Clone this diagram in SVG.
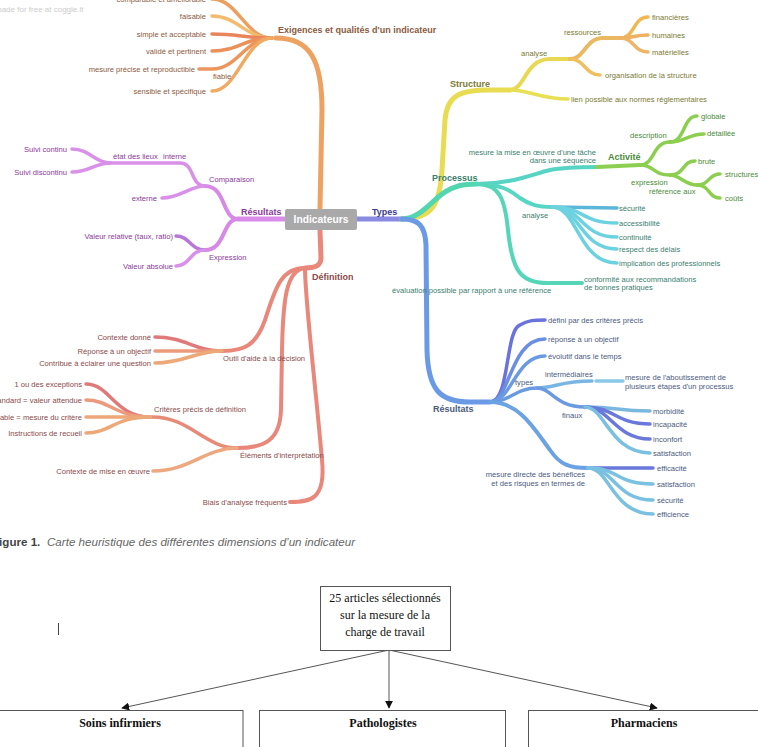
<svg xmlns="http://www.w3.org/2000/svg" width="758" height="747" viewBox="0 0 758 747">
<style>
text{font-family:"Liberation Sans",Arial,sans-serif;font-size:7.6px}
.b{font-weight:bold;font-size:9px}
.e{text-anchor:end}
path{fill:none;stroke-linecap:round}
.w5{stroke-width:5}.w4{stroke-width:4}.w3{stroke-width:3.5}
.to{fill:#8b5a40}.tp{fill:#8a3a9a}.tr{fill:#8a4a4a}.ty{fill:#7a7a34}.tt{fill:#3a7e6e}.tg{fill:#4a8a3a}.tb{fill:#4a5a80}
.fl{font-family:"Liberation Serif","Times New Roman",serif;font-size:12px;fill:#111}
.fb{font-weight:bold}
</style>
<defs>
<marker id="ah" viewBox="0 0 10 10" refX="9" refY="5" markerWidth="8" markerHeight="8" orient="auto"><path d="M0,0 L10,5 L0,10 Z" style="fill:#111;stroke:none"/></marker>
</defs>
<text x="-5" y="12" style="font-size:8px;fill:#cccccc">made for free at coggle.it</text>

<g id="connectors">
<!-- Exigences -->
<path class="w5" stroke="#eea262" d="M320,208 L322,110 C322,60 310,38 276,38"/>
<path class="w3" stroke="#eba060" d="M272,38 C245,38 238,-1 212,-1"/>
<path class="w3" stroke="#f2bb6e" d="M272,38 C245,38 238,16 212,16"/>
<path class="w3" stroke="#e8855a" d="M272,38 C245,38 238,34 212,34"/>
<path class="w3" stroke="#ea9058" d="M272,38 C245,38 238,51 212,51"/>
<path class="w3" stroke="#ec955c" d="M272,38 C245,38 238,69 212,69 L199,69"/>
<path class="w3" stroke="#f0aa62" d="M272,38 C245,38 238,91 212,91"/>
<!-- Résultats left -->
<path class="w5" stroke="#d98ce8" d="M285,219 L238,219"/>
<path class="w4" stroke="#d68ae6" d="M238,219 C222,219 226,186 205,186"/>
<path class="w4" stroke="#d68ae6" d="M238,219 C222,219 226,250 205,250"/>
<path class="w3" stroke="#d990e8" d="M205,186 C190,186 195,163 180,163 L160,163 L110,163"/>
<path class="w3" stroke="#d990e8" d="M110,163 C95,163 90,149 72,149"/>
<path class="w3" stroke="#d990e8" d="M110,163 C95,163 90,172 72,172"/>
<path class="w3" stroke="#d990e8" d="M205,186 C190,186 180,198 162,198"/>
<path class="w3" stroke="#b878d8" d="M205,250 C190,250 190,236 176,236"/>
<path class="w3" stroke="#d990e8" d="M205,250 C190,250 190,266 176,266"/>
<!-- Définition -->
<path class="w5" stroke="#e8877a" d="M320,231 L321,258 C321,266 315,268 305,268"/>
<path class="w4" stroke="#e8877a" d="M305,268 C280,268 275,290 265,320 C256,345 245,351 222,351"/>
<path class="w4" stroke="#e8877a" d="M305,268 C286,270 283,300 282,350 L281,410 C280,440 265,448 237,448"/>
<path class="w4" stroke="#e8877a" d="M305,268 C305,300 315,380 322,460 C326,500 310,502 290,502"/>
<path class="w3" stroke="#e07a7a" d="M222,351 C195,351 185,337 155,337"/>
<path class="w3" stroke="#eb9a7c" d="M222,351 L155,351"/>
<path class="w3" stroke="#eca878" d="M222,351 C195,351 185,363 155,363"/>
<path class="w3" stroke="#e88a78" d="M237,448 C205,448 190,417 152,417"/>
<path class="w3" stroke="#eda880" d="M237,448 C205,448 190,471 153,471"/>
<path class="w3" stroke="#e07a7a" d="M150,417 C115,417 110,384 86,384"/>
<path class="w3" stroke="#eb9a7c" d="M150,417 C115,417 110,400 86,400"/>
<path class="w3" stroke="#eca878" d="M150,417 L86,417"/>
<path class="w3" stroke="#eca878" d="M150,417 C115,417 110,433 86,433"/>
<!-- Types -->
<path class="w5" stroke="#8a8ae2" d="M357,219 L402,219"/>
<!-- Structure -->
<path class="w5" stroke="#e8dc52" d="M402,219 C435,219 440,200 442,170 L445,120 C447,95 460,90 490,90 L510,90"/>
<path class="w4" stroke="#e8d852" d="M510,90 C525,90 525,59 550,59 L570,59"/>
<path class="w4" stroke="#ebb862" d="M570,59 C585,59 585,38 603,38 L620,38"/>
<path class="w3" stroke="#f0b852" d="M620,38 C635,38 633,17 648,17"/>
<path class="w3" stroke="#f0b060" d="M620,38 C635,38 633,35 648,35"/>
<path class="w3" stroke="#eeb468" d="M620,38 C635,38 633,52 648,52"/>
<path class="w3" stroke="#f0c060" d="M570,59 C585,59 585,75 600,75"/>
<path class="w3" stroke="#e8e052" d="M510,90 C530,90 540,99 568,99"/>
<!-- Processus -->
<path class="w5" stroke="#52d6b0" d="M402,219 C420,219 432,200 445,192 C455,186 462,184 477,184"/>
<path class="w4" stroke="#58d4c4" d="M477,184 C510,184 530,175 550,170 C565,167 580,167 597,167"/>
<path class="w4" stroke="#8ccf50" d="M597,167 L640,165"/>
<path class="w3" stroke="#8ccf50" d="M640,165 C655,165 652,142 670,142"/>
<path class="w3" stroke="#8ccf50" d="M670,142 C685,142 683,116 697,116"/>
<path class="w3" stroke="#8ccf50" d="M670,142 C685,142 688,134 704,134"/>
<path class="w3" stroke="#8ccf50" d="M640,165 C655,165 652,175 670,175"/>
<path class="w3" stroke="#8ccf50" d="M670,175 C685,175 682,161 695,161"/>
<path class="w3" stroke="#8ccf50" d="M670,175 C680,175 685,185 697,185"/>
<path class="w3" stroke="#8ccf50" d="M697,185 C710,185 708,174 720,174"/>
<path class="w3" stroke="#8ccf50" d="M697,185 C710,185 708,198 720,198"/>
<path class="w4" stroke="#58d6c4" d="M477,184 C500,184 510,190 520,198 C530,205 538,207 552,207"/>
<path class="w3" stroke="#5cb6d8" d="M552,207 L617,208"/>
<path class="w3" stroke="#6cd2e0" d="M552,207 C585,207 580,223 617,223"/>
<path class="w3" stroke="#6cd2e0" d="M552,207 C583,207 580,237 617,237"/>
<path class="w3" stroke="#6cd2e0" d="M552,207 C580,207 580,249 617,249"/>
<path class="w3" stroke="#6cd2e0" d="M552,207 C578,207 578,263 617,263"/>
<path class="w4" stroke="#56d6b8" d="M477,184 C500,184 505,200 508,230 C512,270 520,283 547,283 L582,283"/>
<!-- Résultats right -->
<path class="w5" stroke="#6a9ae6" d="M402,219 C418,219 425,225 426,245 L427,350 C428,390 440,402 470,402 L490,402"/>
<path class="w3" stroke="#6a72dc" d="M490,402 C510,402 505,330 520,325 C528,320 535,320 545,320"/>
<path class="w3" stroke="#6a8ee2" d="M490,402 C510,402 510,339 545,339"/>
<path class="w3" stroke="#6a9ae2" d="M490,402 C512,402 515,356 545,356"/>
<path class="w3" stroke="#6a9ae2" d="M490,402 C510,402 515,388 537,388"/>
<path class="w3" stroke="#7ab6e4" d="M537,388 C555,388 560,381 592,381"/>
<path class="w3" stroke="#8ac8e8" d="M596,381 L623,381"/>
<path class="w3" stroke="#6a9ae2" d="M537,388 C552,388 555,407 585,407"/>
<path class="w3" stroke="#7ab8e0" d="M585,407 C620,407 615,411 650,411"/>
<path class="w3" stroke="#6a78dc" d="M585,407 C615,407 615,424 650,424"/>
<path class="w3" stroke="#6a78dc" d="M585,407 C610,407 615,439 650,439"/>
<path class="w3" stroke="#7ac0e0" d="M585,407 C605,407 610,453 650,453"/>
<path class="w4" stroke="#6aa2e4" d="M490,402 C520,402 535,430 550,450 C560,465 570,468 588,468"/>
<path class="w3" stroke="#6a78dc" d="M588,468 L653,468"/>
<path class="w3" stroke="#7ac0e0" d="M588,468 C620,468 615,484 653,484"/>
<path class="w3" stroke="#7ac0e0" d="M588,468 C615,468 615,500 653,500"/>
<path class="w3" stroke="#7ac0e0" d="M588,468 C610,468 612,514 653,514"/>
<!-- flowchart -->
<g stroke="#555" stroke-width="1" fill="none">
<line x1="389" y1="650" x2="122" y2="708" marker-end="url(#ah)"/>
<line x1="389" y1="650" x2="389" y2="708" marker-end="url(#ah)"/>
<line x1="389" y1="650" x2="657" y2="708" marker-end="url(#ah)"/>
</g>
</g>

<g id="indicateurs">
<rect x="285" y="209" width="72" height="21" rx="2" fill="#a9a9a9"/>
<text x="321" y="223" class="b" style="font-size:10.3px;fill:#fff;text-anchor:middle">Indicateurs</text>
</g>

<g id="exigences">
<text x="278" y="33" class="b to">Exigences et qualités d'un indicateur</text>
<text x="206" y="2" class="e to">comparable et améliorable</text>
<text x="206" y="19" class="e to">faisable</text>
<text x="206" y="37" class="e to">simple et acceptable</text>
<text x="206" y="54" class="e to">validé et pertinent</text>
<text x="213" y="79" class="to">fiable</text>
<text x="195" y="72" class="e to">mesure précise et reproductible</text>
<text x="206" y="94" class="e to">sensible et spécifique</text>
</g>

<g id="resultats-gauche">
<text x="241" y="215" class="b tp">Résultats</text>
<text x="209" y="182" class="tp">Comparaison</text>
<text x="209" y="260" class="tp">Expression</text>
<text x="163" y="159" class="tp">interne</text>
<text x="113" y="159" class="tp">état des lieux</text>
<text x="67" y="152" class="e tp">Suivi continu</text>
<text x="67" y="175" class="e tp">Suivi discontinu</text>
<text x="157" y="201" class="e tp">externe</text>
<text x="173" y="239" class="e tp">Valeur relative (taux, ratio)</text>
<text x="173" y="269" class="e tp">Valeur absolue</text>
</g>

<g id="definition">
<text x="312" y="280" class="b tr">Définition</text>
<text x="223" y="361" class="tr">Outil d'aide à la décision</text>
<text x="240" y="458" class="tr">Éléments d'interprétation</text>
<text x="287" y="505" class="e tr">Biais d'analyse fréquents</text>
<text x="151" y="340" class="e tr">Contexte donné</text>
<text x="151" y="354" class="e tr">Réponse à un objectif</text>
<text x="151" y="366" class="e tr">Contribue à éclairer une question</text>
<text x="154" y="412" class="tr">Critères précis de définition</text>
<text x="150" y="474" class="e tr">Contexte de mise en œuvre</text>
<text x="82" y="387" class="e tr">1 ou des exceptions</text>
<text x="82" y="403" class="e tr">Standard = valeur attendue</text>
<text x="82" y="420" class="e tr">Variable = mesure du critère</text>
<text x="82" y="436" class="e tr">Instructions de recueil</text>
</g>

<g id="types">
<text x="372" y="215" class="b" style="fill:#3a3a8a">Types</text>
</g>

<g id="structure">
<text x="450" y="87" class="b ty">Structure</text>
<text x="521" y="56" class="ty">analyse</text>
<text x="564" y="35" class="ty">ressources</text>
<text x="652" y="20" class="ty">financières</text>
<text x="652" y="38" class="ty">humaines</text>
<text x="652" y="55" class="ty">matérielles</text>
<text x="605" y="78" class="ty">organisation de la structure</text>
<text x="571" y="102" class="ty">lien possible aux normes réglementaires</text>
</g>

<g id="processus">
<text x="432" y="181" class="b tt">Processus</text>
<text x="596" y="155" class="e tt">mesure la mise en œuvre d'une tâche</text>
<text x="596" y="163" class="e tt">dans une séquence</text>
<text x="608" y="160" class="b tg">Activité</text>
<text x="630" y="138" class="tg">description</text>
<text x="701" y="119" class="tg">globale</text>
<text x="707" y="136" class="tg">détaillée</text>
<text x="631" y="185" class="tg">expression</text>
<text x="698" y="164" class="tg">brute</text>
<text x="649" y="194" class="tg">référence aux</text>
<text x="725" y="177" class="tg">structures</text>
<text x="725" y="201" class="tg">coûts</text>
<text x="522" y="218" class="tt">analyse</text>
<text x="619" y="211" class="tt">sécurité</text>
<text x="619" y="226" class="tt">accessibilité</text>
<text x="619" y="240" class="tt">continuité</text>
<text x="619" y="252" class="tt">respect des délais</text>
<text x="619" y="266" class="tt">implication des professionnels</text>
<text x="584" y="282" class="tt">conformité aux recommandations</text>
<text x="584" y="290" class="tt">de bonnes pratiques</text>
<text x="392" y="293" class="tt">évaluation possible par rapport à une référence</text>
</g>

<g id="resultats-droite">
<text x="433" y="412" class="b tb">Résultats</text>
<text x="548" y="323" class="tb">défini par des critères précis</text>
<text x="548" y="342" class="tb">réponse à un objectif</text>
<text x="548" y="359" class="tb">évolutif dans le temps</text>
<text x="515" y="385" class="tb">types</text>
<text x="545" y="377" class="tb">intermédiaires</text>
<text x="625" y="380" class="tb">mesure de l'aboutissement de</text>
<text x="625" y="389" class="tb">plusieurs étapes d'un processus</text>
<text x="562" y="418" class="tb">finaux</text>
<text x="653" y="414" class="tb">morbidité</text>
<text x="653" y="427" class="tb">incapacité</text>
<text x="653" y="442" class="tb">inconfort</text>
<text x="653" y="456" class="tb">satisfaction</text>
<text x="585" y="477" class="e tb">mesure directe des bénéfices</text>
<text x="585" y="486" class="e tb">et des risques en termes de</text>
<text x="657" y="471" class="tb">efficacité</text>
<text x="657" y="487" class="tb">satisfaction</text>
<text x="657" y="503" class="tb">sécurité</text>
<text x="657" y="517" class="tb">efficience</text>
</g>

<g id="caption">
<text x="-8" y="546" style="font-size:11.6px;fill:#444;font-weight:bold">Figure 1.</text>
<text x="47" y="546" style="font-size:11.6px;fill:#666;font-style:italic">Carte heuristique des différentes dimensions d’un indicateur</text>
</g>

<line x1="58.5" y1="623" x2="58.5" y2="635" stroke="#444" stroke-width="1"/>

<g id="articles">
<rect x="320.5" y="586.5" width="130" height="64" fill="#fff" stroke="#555"/>
<text x="385" y="602" class="fl" text-anchor="middle">25 articles sélectionnés</text>
<text x="385" y="619" class="fl" text-anchor="middle">sur la mesure de la</text>
<text x="385" y="636" class="fl" text-anchor="middle">charge de travail</text>
</g>
<g id="soins">
<rect x="-1" y="710.5" width="244" height="45" fill="#fff" stroke="#555"/>
<text x="120" y="727" class="fl fb" text-anchor="middle">Soins infirmiers</text>
</g>
<g id="pathologistes">
<rect x="259.5" y="710.5" width="246" height="45" fill="#fff" stroke="#555"/>
<text x="383" y="727" class="fl fb" text-anchor="middle">Pathologistes</text>
</g>
<g id="pharmaciens">
<rect x="528.5" y="710.5" width="240" height="45" fill="#fff" stroke="#555"/>
<text x="644" y="727" class="fl fb" text-anchor="middle">Pharmaciens</text>
</g>
</svg>
